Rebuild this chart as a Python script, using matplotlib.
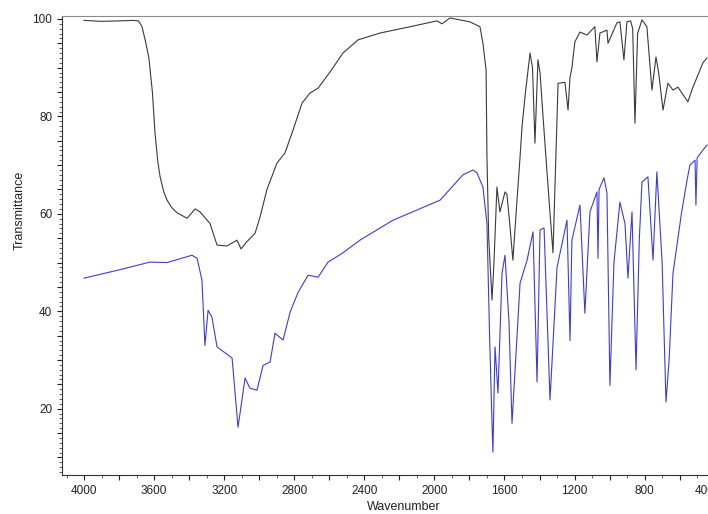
"""
IR SPECTRUM PLOT
Two transmittance traces over wavenumber (reversed x axis)
"""

import numpy as np
import matplotlib
matplotlib.use("Agg")
import matplotlib.pyplot as plt
from matplotlib.ticker import MultipleLocator, FuncFormatter

# ========================================
# DATA
# ========================================

# upper (black) trace
black_wn = [4000, 3900, 3800, 3720, 3690, 3670, 3650, 3630, 3610, 3595, 3580,
            3566, 3545, 3526, 3500, 3469, 3412,
            3366, 3338, 3281, 3241, 3184, 3127, 3104, 3070, 3024, 2995, 2956,
            2899, 2853, 2807, 2756, 2710, 2664, 2596, 2522, 2436, 2311, 2139,
            1985, 1957, 1911, 1797, 1740, 1723, 1705, 1700, 1690, 1671, 1660,
            1643, 1626, 1597, 1586, 1570, 1552, 1530, 1511, 1500, 1480, 1454,
            1440, 1426, 1409, 1397, 1380, 1350, 1323, 1294, 1255, 1237, 1226,
            1215, 1198, 1169, 1129, 1084, 1072, 1055, 1015, 1009, 958, 941, 918,
            901, 880, 868, 855, 840, 815, 787, 758, 735, 720, 695, 667, 638,
            610, 553, 524, 467, 444]
black_tr = [99.7, 99.5, 99.6, 99.7, 99.6, 98.5, 95.5, 92.0, 85.0, 76.6, 71.0,
            67.6, 64.5, 62.8, 61.3, 60.2, 59.1,
            61.0, 60.4, 58.0, 53.6, 53.4, 54.6, 52.8, 54.3, 56.0, 59.4, 65.0,
            70.4, 72.5, 77.2, 82.7, 84.8, 85.8, 89.1, 93.0, 95.7, 97.1, 98.4,
            99.6, 99.0, 100.2, 99.4, 98.4, 95.0, 89.5, 71.7, 55.0, 42.3, 50.0,
            65.5, 60.4, 64.5, 64.0, 58.0, 50.5, 62.0, 71.7, 77.8, 85.0, 93.0,
            90.0, 74.5, 91.6, 89.0, 80.0, 65.0, 52.0, 86.8, 87.0, 81.3, 88.0,
            90.0, 95.3, 97.3, 96.7, 98.4, 91.2, 97.1, 97.7, 95.0, 99.2, 99.4,
            91.6, 99.4, 99.6, 98.0, 78.6, 97.0, 99.8, 98.4, 85.4, 92.2, 89.0,
            81.3, 86.8, 85.4, 86.0, 83.0, 86.0, 91.0, 92.0]

# lower (blue) trace
blue_wn = [4000, 3800, 3623, 3526, 3384, 3355, 3327, 3310, 3292, 3270, 3241,
           3155, 3121, 3081, 3053, 3013, 2978, 2938, 2910, 2864, 2824, 2778,
           2721, 2664, 2607, 2522, 2425, 2236, 1968, 1837, 1780, 1757, 1723,
           1700, 1685, 1671, 1666, 1654, 1637, 1614, 1597, 1574, 1557, 1511,
           1471, 1437, 1414, 1397, 1374, 1340, 1300, 1243, 1226, 1215, 1169,
           1141, 1112, 1072, 1066, 1060, 1032, 1015, 998, 975, 941, 912, 895,
           872, 849, 830, 815, 781, 752, 730, 700, 678, 660, 638, 590, 558, 541,
           512, 507, 500, 467, 444]
blue_tr = [46.8, 48.5, 50.1, 50.0, 51.5, 50.9, 46.4, 33.0, 40.2, 38.8, 32.7,
           30.4, 16.2, 26.3, 24.2, 23.8, 28.9, 29.6, 35.5, 34.1, 39.8, 43.9,
           47.4, 47.0, 50.1, 52.0, 54.6, 58.7, 62.8, 68.0, 69.0, 68.4, 65.5,
           58.0, 35.0, 17.0, 11.1, 32.7, 23.2, 47.8, 51.5, 37.6, 17.0, 45.8,
           50.5, 56.3, 25.5, 56.7, 57.1, 21.8, 49.0, 58.7, 34.0, 54.6, 61.8,
           39.6, 60.4, 64.5, 50.9, 65.0, 67.4, 64.3, 24.8, 50.0, 62.4, 58.0,
           46.8, 60.4, 28.0, 55.0, 66.5, 67.6, 50.5, 68.6, 50.0, 21.4, 30.0,
           47.8, 60.0, 66.9, 70.0, 71.0, 61.8, 71.5, 73.1, 74.1]

# axis labels
x_label = 'Wavenumber'
y_label = 'Transmittance'

# ========================================
# PLOT
# ========================================

plt.rcParams['font.family'] = ['Liberation Sans', 'DejaVu Sans']

fig = plt.figure(figsize=(7.08, 5.14), dpi=100)
# axes runs a bit past the right edge, like the cropped original
ax = fig.add_axes([62 / 708, 1 - 475 / 514, 656 / 708, 459 / 514])

ax.plot(black_wn, black_tr, color='#3a3a3a', linewidth=0.8)
ax.plot(blue_wn, blue_tr, color='#3c3cdc', linewidth=0.8)

ax.set_xlim(4126, 381)
ax.set_ylim(6.4, 100.6)

# ticks: x labels every 400, y labels every 20
ax.xaxis.set_major_locator(MultipleLocator(200))
ax.xaxis.set_minor_locator(MultipleLocator(100))
ax.xaxis.set_major_formatter(
    FuncFormatter(lambda v, p: f'{int(v)}' if v % 400 == 0 else ''))
ax.yaxis.set_major_locator(MultipleLocator(5))
ax.yaxis.set_minor_locator(MultipleLocator(1))
ax.yaxis.set_major_formatter(
    FuncFormatter(lambda v, p: f'{int(v)}' if v % 20 == 0 else ''))

ax.tick_params(which='major', direction='out', length=3.5, width=0.8,
               labelsize=8.5, colors='#222222')
ax.tick_params(which='minor', direction='out', length=2, width=0.6,
               colors='#444444')

ax.spines['right'].set_visible(False)
ax.spines['top'].set_color('#8a8a8a')
ax.spines['left'].set_color('#333333')
ax.spines['bottom'].set_color('#333333')

# last label sits against the right edge, as in the original
fig.canvas.draw()
for lab in ax.get_xticklabels():
    if lab.get_text() == '400':
        lab.set_horizontalalignment('right')

fig.text(404 / 708, 1 - 507 / 514, x_label, ha='center', va='center',
         fontsize=9, color='#222222')
fig.text(20 / 708, 1 - 210 / 514, y_label, ha='center', va='center',
         rotation=90, fontsize=9, color='#222222')

fig.savefig('out.png', dpi=100)
